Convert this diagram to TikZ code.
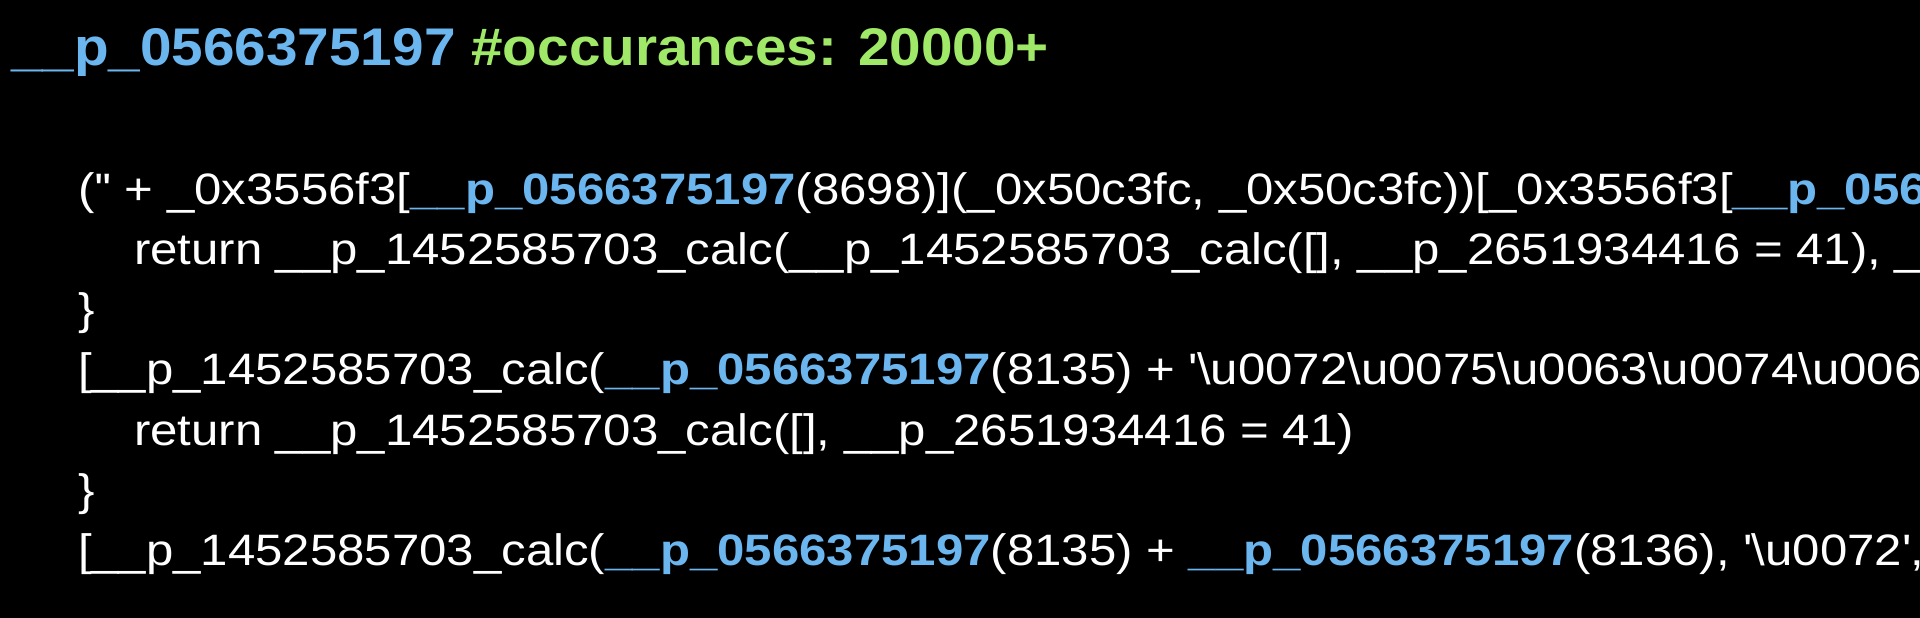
\documentclass[tikz,border=0pt]{standalone}
\usepackage{fontspec}
\setmainfont{Liberation Sans}
\newfontfamily\codefont{Liberation Sans}[FakeStretch=1.117]
\newfontfamily\headfont{Liberation Sans}[FakeStretch=1.07]
\definecolor{pblue}{RGB}{108,182,240}
\definecolor{pgreen}{RGB}{160,232,104}
\newcommand\pid[1]{{\bfseries\color{pblue}#1}}
\newcommand\sq{\textquotesingle}
\newcommand\bs{\textbackslash}
\tikzset{
  codeline/.style={anchor=base west, inner sep=0pt, outer sep=0pt, text=white,
    font=\codefont\fontsize{44}{50}\selectfont},
  headline/.style={anchor=base west, inner sep=0pt, outer sep=0pt,
    font=\headfont\bfseries\fontsize{53}{60}\selectfont}
}
\begin{document}
\begin{tikzpicture}[x=1pt,y=-1pt]
\fill[black] (0,0) rectangle (1920,618);
\useasboundingbox (0,0) rectangle (1920,618);
\clip (0,0) rectangle (1920,618);
\node[headline] (title) at (11,66) {\textcolor{pblue}{\_\_p\_0566375197} \textcolor{pgreen}{\#occurances: 20000+}};
\node[codeline] (l1) at (78,204) {(\sq\sq{} + \_0x3556f3[\pid{\_\_p\_0566375197}(8698)](\_0x50c3fc, \_0x50c3fc))[\_0x3556f3[\pid{\_\_p\_0566375197}(8699)](\_0x50c3fc)]};
\node[codeline] (l2) at (134,264.3) {return \_\_p\_1452585703\_calc(\_\_p\_1452585703\_calc([], \_\_p\_2651934416 = 41), \_\_p\_2651934416 = 41)};
\node[codeline] (l3) at (78,324.6) {\}};
\node[codeline] (l4) at (78,384.9) {[\_\_p\_1452585703\_calc(\pid{\_\_p\_0566375197}(8135) + \sq\bs u0072\bs u0075\bs u0063\bs u0074\bs u006f\bs u0072\sq)]};
\node[codeline] (l5) at (134,445.2) {return \_\_p\_1452585703\_calc([], \_\_p\_2651934416 = 41)};
\node[codeline] (l6) at (78,505.5) {\}};
\node[codeline] (l7) at (78,565.8) {[\_\_p\_1452585703\_calc(\pid{\_\_p\_0566375197}(8135) + \pid{\_\_p\_0566375197}(8136), \sq\bs u0072\sq, \sq\bs u0075\sq)]};
\end{tikzpicture}
\end{document}
